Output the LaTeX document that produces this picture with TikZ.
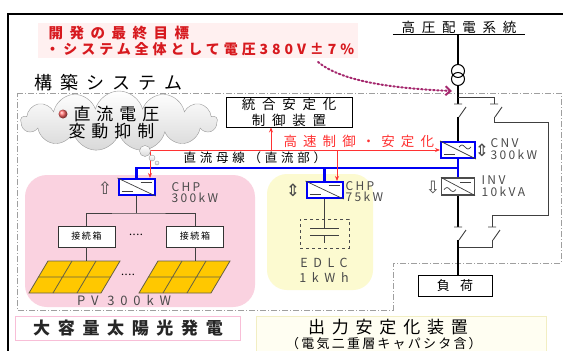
\documentclass[tikz,border=0pt]{standalone}
\usepackage{fontspec}
\setmainfont{Noto Sans CJK JP}
\newfontfamily\arrowfont{DejaVu Sans}
\usepackage{tikz}
\usepackage{xcolor}
\usetikzlibrary{positioning, shapes.symbols, arrows.meta, calc}

\definecolor{goalred}{RGB}{215,25,30}
\definecolor{busblue}{RGB}{0,0,245}
\definecolor{ctrlred}{RGB}{255,50,50}
\definecolor{pvpink}{RGB}{250,210,224}
\definecolor{pinkedge}{RGB}{248,190,215}
\definecolor{edlcyellow}{RGB}{252,250,208}
\definecolor{yellowedge}{RGB}{242,238,195}
\definecolor{cellyellow}{RGB}{255,200,0}
\definecolor{linkpurple}{RGB}{165,40,110}
\definecolor{labelgray}{RGB}{75,75,75}

% size, baseline skip, letter spacing
\newcommand{\jpfont}[3]{\fontsize{#1}{#2}\selectfont\addfontfeatures{LetterSpace=#3}}

\begin{document}
\begin{tikzpicture}[
  x=1pt, y=-1pt,
  >=Stealth,
  bound/.style={draw=gray!75, line width=0.8pt, dash pattern=on 6pt off 2pt on 1pt off 2pt},
  conv/.style={draw=busblue, line width=2pt, fill=white, minimum width=36pt, minimum height=16pt, inner sep=0pt},
  bus/.style={busblue, line width=2.2pt},
  ctrlline/.style={ctrlred, line width=1pt, -{Stealth[length=5pt,width=4pt]}},
  main/.style={line width=2.6pt},
  feeder/.style={draw=black!75, line width=0.9pt},
  glyph/.style={black!75, line width=0.7pt},
  spec/.style={anchor=west, align=left, text=labelgray, font=\jpfont{12}{11.5}{20}},
  updown/.style={text=labelgray, font=\arrowfont\fontsize{17}{17}\selectfont},
  jbox/.style={draw=black!80, fill=white, minimum width=57pt, minimum height=21pt, inner sep=0pt, font=\jpfont{9}{9}{18}},
  cell/.style={draw=black!70!yellow, fill=cellyellow, line width=0.8pt},
  brk/.pic={\draw[feeder] (-4,0) -- (4,0) (8,3) -- (1,13);}
]
% canvas and outer frame
\useasboundingbox (0,0) rectangle (563,351);
\clip (0,0) rectangle (563,351);
\fill[white] (0,0) rectangle (563,351);
\draw[line width=1.6pt] (8,351) -- (8,14) -- (563,14);

% Development goal
\fill[red!6] (38,23) rectangle (358,58);
\node[anchor=west, text=goalred, font=\bfseries\jpfont{14.5}{15}{45}] (goal) at (45,33) {開発の最終目標};
\node[anchor=west, text=goalred, font=\bfseries\jpfont{14}{15}{28}] (goalv) at (42,49) {・システム全体として電圧380V±7\%};

% System boundary
\node[anchor=west, font=\jpfont{18}{18}{45}] (sys) at (31,83) {構築システム};
\draw[bound] (17,93) -- (561,93) -- (561,263) -- (393,263) -- (393,310) -- (17,310) -- cycle;

% PV and EDLC areas
\node[fill=pvpink, rounded corners=22pt, minimum width=230pt, minimum height=132pt] (pvarea) at (140,241) {};
\node[fill=edlcyellow, rounded corners=20pt, minimum width=106pt, minimum height=116pt] (edlcarea) at (320,232) {};

% Thought cloud
\node[cloud, cloud puffs=13, cloud ignores aspect, minimum width=196pt, minimum height=60pt, draw=gray!80, top color=white, bottom color=gray!30] (cloud) at (119,121) {};
\shade[ball color=red!60] (63,114) circle[radius=4.5pt];
\node[anchor=west, font=\jpfont{17}{17}{35}] (cloudA) at (70,114) {直流電圧};
\node[anchor=west, font=\jpfont{17}{17}{35}] (cloudB) at (65,131) {変動抑制};

% Control unit
\node[draw, fill=white, align=center, minimum width=126pt, minimum height=30pt, inner sep=1pt, font=\jpfont{13.5}{16}{50}] (unit) at (289,112) {統合安定化\\制御装置};

% Converters
\node[conv] (chpA) at (136.5,187) {};
\node[conv] (chpB) at (324.5,190) {};
\node[conv, minimum width=34pt] (cnv) at (458,150) {};
\node[conv, draw=gray!60!black, line width=1.1pt, minimum width=33pt, minimum height=17pt] (inv) at (458,186.5) {};
\foreach \n in {chpA, chpB, cnv, inv}
  \draw[glyph] (\n.north west) -- (\n.south east);
\foreach \n in {chpA, chpB} {
  \draw[glyph] ([xshift=4pt, yshift=5pt]\n.south west) -- ++(11pt,0pt);
  \draw[glyph] ([xshift=-15pt, yshift=-4.5pt]\n.north east) -- ++(11pt,0pt);
}
\draw[glyph] ([xshift=4pt, yshift=5pt]cnv.south west) -- ++(11pt,0pt);
\draw[glyph] ([xshift=-17pt, yshift=-6pt]cnv.north east) sin ++(3pt,2pt) cos ++(3pt,-2pt) sin ++(3pt,-2pt) cos ++(3pt,2pt);
\draw[glyph] ([xshift=-15pt, yshift=-4.5pt]inv.north east) -- ++(11pt,0pt);
\draw[glyph] ([xshift=3pt, yshift=6pt]inv.south west) sin ++(3pt,2pt) cos ++(3pt,-2pt) sin ++(3pt,-2pt) cos ++(3pt,2pt);

\node[updown] (chpAdir) at (105,188) {⇧};
\node[updown] (chpBdir) at (293,190) {⇕};
\node[updown] (cnvdir) at (482,150) {⇕};
\node[updown] (invdir) at (433,188) {⇩};
\node[spec] (chpAlbl) at (168,192.5) {CHP\\300kW};
\node[spec] (chpBlbl) at (342,191.5) {CHP\\75kW};
\node[spec] (cnvlbl) at (487,149) {CNV\\300kW};
\node[spec] (invlbl) at (478,186) {INV\\10kVA};

% DC bus
\coordinate (busR) at (458,168);
\draw[bus] (chpA.north) |- (busR);
\draw[bus] (chpB.north) -- (chpB.north |- busR);
\draw[bus] (cnv.south) -- (inv.north);
\node[anchor=west, font=\jpfont{12.5}{13}{30}] (buslbl) at (180,158) {直流母線（直流部）};

% Fast control signals
\coordinate (rtap) at (150,150);
\coordinate (rup) at (271,150);
\coordinate (rdown) at (337,150);
\draw[ctrlline] (rtap) -- (cnv.west);
\draw[ctrlline] (rup) -- (rup |- unit.south);
\draw[ctrlline] (rtap) -- (rtap |- chpA.north);
\draw[ctrlline] (rdown) -- (rdown |- chpB.north);
\node[anchor=west, text=ctrlred, font=\jpfont{13.5}{14}{45}] (fast) at (280,141) {高速制御・安定化};
\foreach \cx/\cy/\rad in {145/151/5.5, 152/158/3, 157/163/2}
  \draw[gray!80, top color=white, bottom color=gray!30] (\cx,\cy) circle[radius=\rad*1pt];

% PV array
\node[jbox] (jbA) at (86.5,236.5) {接続箱};
\node[jbox] (jbB) at (195,236.5) {接続箱};
\coordinate (pvsplit) at (136.5,213);
\draw[feeder] (chpA.south) -- (pvsplit);
\draw[feeder] (jbA.north) |- (pvsplit) -| (jbB.north);
\node[font=\jpfont{11}{11}{5}] (jbdots) at (136,235) {....};
\foreach \px/\nm in {48/pvA, 158/pvB} {
  \filldraw[cell] (\px,261) -- ++(72,0) -- ++(-19,32) -- ++(-72,0) -- cycle;
  \draw[cell] (\px+24,261) -- ++(-19,32) (\px+48,261) -- ++(-19,32) (\px-9.5,277) -- ++(72,0);
  \coordinate (\nm) at (\px+26.5,261);
}
\draw[feeder] (jbA.south) -- (jbA.south |- pvA);
\draw[feeder] (jbB.south) -- (jbB.south |- pvB);
\node[font=\jpfont{11}{11}{5}] (pvdots) at (128,275) {....};
\node[text=labelgray, font=\jpfont{13}{13}{45}] (pvlbl) at (124,300) {PV 300kW};

% EDLC
\node[draw=black!70, dashed, minimum width=49pt, minimum height=29pt, inner sep=0pt] (edlc) at (324.5,233.5) {};
\coordinate (capT) at (324.5,228);
\coordinate (capB) at (324.5,235);
\draw[feeder] (chpB.south) -- (capT);
\draw[feeder] ([xshift=-14.5pt]capT) -- ([xshift=14.5pt]capT);
\draw[feeder] ([xshift=-14.5pt]capB) -- ([xshift=14.5pt]capB) (capB) -- ++(0,8);
\node[text=labelgray, align=center, font=\jpfont{12.5}{15}{45}] (edlclbl) at (324,270) {EDLC\\1kWh};

% HV grid and feeders
\node[inner sep=1pt, minimum width=132pt, font=\jpfont{13.5}{14}{50}] (grid) at (459,27) {高圧配電系統};
\draw[line width=0.8pt] (grid.south west) -- (grid.south east);
\node[circle, draw, line width=1pt, minimum size=13pt, inner sep=0pt] (trA) at (458,71) {};
\node[circle, draw, line width=1pt, minimum size=13pt, inner sep=0pt] (trB) at (458,79) {};
\coordinate (hvjoin) at (458,97);
\coordinate (swA) at (458,104);
\coordinate (swAo) at (458,117);
\coordinate (swB) at (494,104);
\coordinate (swBo) at (494,117);
\coordinate (swC) at (492,227);
\coordinate (swCo) at (492,240);
\coordinate (swD) at (458,227);
\coordinate (swDo) at (458,240);
\coordinate (loadjoin) at (458,247);
\draw[main] (grid.south -| trA) -- (trA.north);
\draw[main] (trB.south) -- (swA);
\draw[feeder] (hvjoin) -| (swB);
\pic at (swA) {brk};
\pic at (swB) {brk};
\draw[main] (swAo) -- (cnv.north);
\draw[feeder] (swBo) -- ++(0,5) -| (548,215) -| (swC);
\pic at (swC) {brk};
\draw[feeder] (swCo) |- (loadjoin);
\draw[main] (inv.south) -- (swD);
\pic at (swD) {brk};
\node[draw, line width=0.9pt, minimum width=74pt, minimum height=21pt, font=\jpfont{13}{13}{80}] (load) at (455,286) {負荷};
\draw[main] (swDo) -- (swDo |- load.north);

% Goal pointer
\coordinate (goaltail) at (318,62);
\coordinate (goalhead) at (452,91);
\draw[linkpurple, line width=2pt, dash pattern=on 1.6pt off 2.4pt, line cap=round, -{Straight Barb[length=5pt, width=9pt]}] (goaltail) .. controls (340,80) and (385,88) .. (goalhead);

% Captions
\node[draw=pinkedge, line width=1pt, fill=white, minimum width=225pt, minimum height=24pt, text=black!85, font=\bfseries\jpfont{17}{17}{45}] (pvtitle) at (128,328) {大容量太陽光発電};
\node[draw=yellowedge, fill=yellow!5, line width=1pt, minimum width=290pt, minimum height=50pt, anchor=north west] (capbox) at (256,316) {};
\node[inner sep=0pt, font=\jpfont{17}{17}{40}] (captitle) at (388,327) {出力安定化装置};
\node[inner sep=0pt, font=\jpfont{13}{13}{17}] (capsub) at (384,344) {（電気二重層キャパシタ含）};
\end{tikzpicture}
\end{document}
